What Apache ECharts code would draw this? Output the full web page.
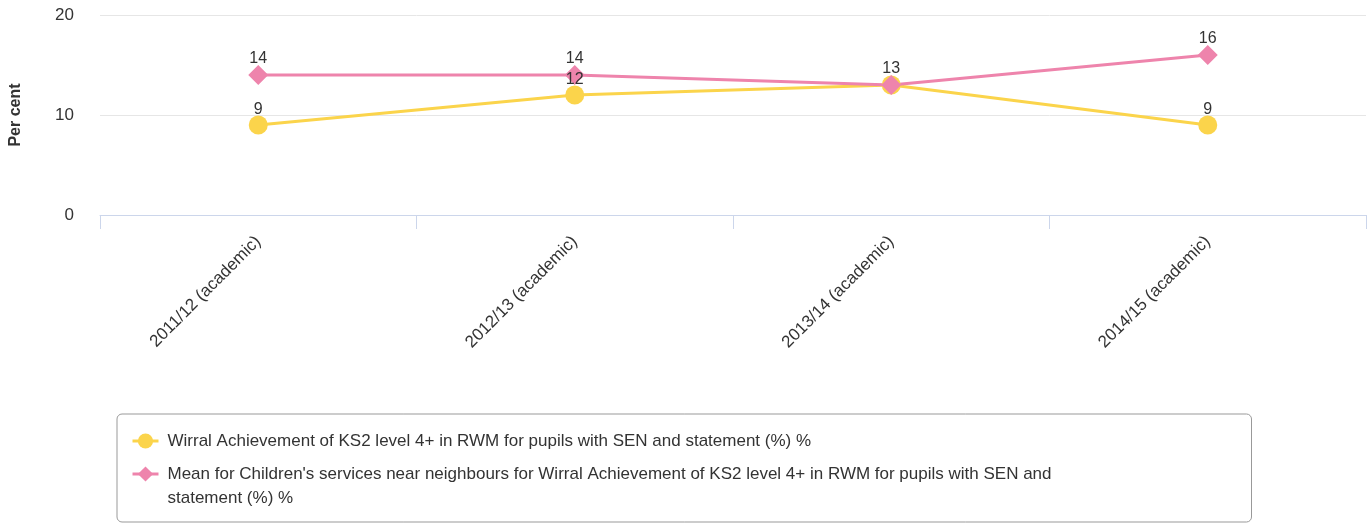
<!DOCTYPE html>
<html>
<head>
<meta charset="utf-8">
<script src="https://cdn.jsdelivr.net/npm/echarts@6/dist/echarts.min.js"></script>
<style>
  html, body { margin: 0; padding: 0; background: #fff; }
  #chart { width: 1371px; height: 523px; }
</style>
</head>
<body>
<div id="chart"></div>
<script>
var years = ['2011/12 (academic)', '2012/13 (academic)', '2013/14 (academic)', '2014/15 (academic)'];
var wirral = [9, 12, 13, 9];
var neighbours = [14, 14, 13, 16];
var yTicks = [0, 10, 20];

var wirralName = 'Wirral Achievement of KS2 level 4+ in RWM for pupils with SEN and statement (%) %';
var neighName = "Mean for Children's services near neighbours for Wirral Achievement of KS2 level 4+ in RWM for pupils with SEN and statement (%) %";

var font = '"Liberation Sans", Arial, sans-serif';
var myChart = echarts.init(document.getElementById('chart'));

var option = {
  animation: false,
  textStyle: { fontFamily: font },
  grid: { left: 100, right: 5, top: 15, bottom: 308, outerBoundsMode: 'none' },
  legend: {
    orient: 'vertical',
    left: 117,
    top: 414,
    height: 300, // only so the items never spill into a second column
    padding: [15, 10, 12, 14],
    borderColor: '#999',
    borderWidth: 1,
    borderRadius: 5,
    itemWidth: 26,
    itemHeight: 19,
    itemGap: -15,
    lineStyle: { width: 3 },
    // long name wraps before "statement"; the blank first line keeps
    // "Mean for..." level with its icon (text is centred on the icon)
    formatter: function (name) {
      if (name === neighName) return '\n' + name.replace('SEN and statement', 'SEN and\nstatement');
      return name;
    },
    textStyle: {
      fontFamily: font,
      fontSize: 17,
      color: '#333',
      lineHeight: 24,
      width: 1074,
      padding: [0, 0, 0, 4]
    },
    data: [wirralName, neighName]
  },
  xAxis: {
    type: 'category',
    data: years,
    axisLine: { lineStyle: { color: '#ccd6eb' } },
    axisTick: { show: true, length: 14, lineStyle: { color: '#ccd6eb' } },
    axisLabel: { rotate: 45, margin: 24, fontSize: 17, color: '#333', fontFamily: font }
  },
  yAxis: {
    type: 'value',
    min: yTicks[0],
    max: yTicks[yTicks.length - 1],
    interval: 10,
    name: 'Per cent',
    nameLocation: 'middle',
    nameRotate: 90,
    nameGap: 76,
    nameTextStyle: { fontWeight: 'bold', fontSize: 16, color: '#333', fontFamily: font },
    axisLine: { show: false },
    axisTick: { show: false },
    axisLabel: { fontSize: 17, color: '#333', margin: 26, padding: [4, 0, 0, 0], fontFamily: font },
    splitLine: { lineStyle: { color: '#e6e6e6' } }
  },
  series: [
    {
      name: wirralName,
      type: 'line',
      data: wirral,
      symbol: 'circle',
      symbolSize: 19,
      color: '#fbd44b',
      lineStyle: { width: 3, color: '#fbd44b' },
      itemStyle: { color: '#fbd44b' },
      labelLayout: { hideOverlap: true },
      label: { show: true, position: 'top', distance: -2, fontSize: 16, color: '#333', fontFamily: font }
    },
    {
      name: neighName,
      type: 'line',
      data: neighbours,
      symbol: 'diamond',
      symbolSize: 20,
      color: '#ee84ac',
      lineStyle: { width: 3, color: '#ee84ac' },
      itemStyle: { color: '#ee84ac' },
      labelLayout: { hideOverlap: true },
      label: { show: true, position: 'top', distance: -2, fontSize: 16, color: '#333', fontFamily: font }
    }
  ]
};
myChart.setOption(option);
</script>
</body>
</html>
